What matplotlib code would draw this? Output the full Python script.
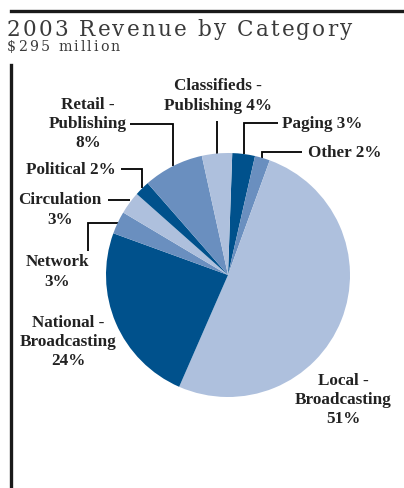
import numpy as np
import matplotlib
matplotlib.use("Agg")
import matplotlib.pyplot as plt
from matplotlib.lines import Line2D

# ---- data -------------------------------------------------------------
categories = ["Paging", "Other", "Local -\nBroadcasting", "National -\nBroadcasting",
              "Network", "Circulation", "Political", "Retail -\nPublishing",
              "Classifieds -\nPublishing"]
shares = [3, 2, 51, 24, 3, 3, 2, 8, 4]
title = "2003 Revenue by Category"
subtitle = "$295 million"

DARK = "#00518C"
MID = "#6A8FBF"
LIGHT = "#AEC0DD"
colors = [DARK, MID, LIGHT, DARK, MID, LIGHT, DARK, MID, LIGHT]

W, H = 404, 489
fig = plt.figure(figsize=(W / 100, H / 100), dpi=100)
ax = fig.add_axes([0, 0, 1, 1])
ax.set_xlim(0, W)
ax.set_ylim(H, 0)
ax.axis("off")

# ---- pie ------------------------------------------------------------
cx, cy, r = 228, 276, 122
pax = fig.add_axes([0, 0, 1, 1])
wedges, _ = pax.pie(shares, colors=colors, startangle=88, counterclock=False,
                    center=(cx, H - cy), radius=r, frame=True,
                    wedgeprops=dict(linewidth=0))
pax.set_xlim(0, W)
pax.set_ylim(0, H)
pax.set_aspect("auto")
pax.axis("off")

def anchor(i):
    w = wedges[i]
    th = np.deg2rad((w.theta1 + w.theta2) / 2)
    return cx + r * np.cos(th), cy - r * np.sin(th)

lab_font = dict(family="Liberation Serif", fontweight="bold", fontsize=12.3,
                color="#222222", linespacing=1.28)
lc = dict(color="black", lw=1.3, solid_capstyle="butt", solid_joinstyle="miter")

def leader(pts):
    xs, ys = zip(*pts)
    ax.add_line(Line2D(xs, ys, **lc))

def block(x, y, txt, ha="center"):
    ax.text(x, y, txt, ha=ha, va="center", multialignment="center", **lab_font)

# Paging
px, py = anchor(0)
leader([(px, py), (px, 124), (278, 124)])
block(282, 124, f"Paging {shares[0]}%", ha="left")
# Other
px, py = anchor(1)
leader([(px, py), (px, 153), (302, 153)])
block(308, 153, f"Other {shares[1]}%", ha="left")
# Local
block(343, 400, f"Local -\nBroadcasting\n{shares[2]}%")
# National
block(68, 342, f"National -\nBroadcasting\n{shares[3]}%")
# Network
px, py = anchor(4)
leader([(px, py), (88, py), (88, 252)])
block(57, 272, f"Network\n{shares[4]}%")
# Circulation
px, py = anchor(5)
leader([(px, py - 3), (108, py - 3)])
block(60, 210, f"Circulation\n{shares[5]}%")
# Political
px, py = anchor(6)
leader([(px, py), (px, 170), (121, 170)])
block(116, 170, f"Political {shares[6]}%", ha="right")
# Retail
px, py = anchor(7)
leader([(px, py), (px, 125), (130, 125)])
block(88, 124, f"Retail -\nPublishing\n{shares[7]}%")
# Classifieds
px, py = anchor(8)
leader([(px, py), (px, 122)])
block(218, 96, f"Classifieds -\nPublishing {shares[8]}%")

# ---- frame rules -------------------------------------------------------
ax.add_line(Line2D([11, W], [12, 12], color="#1a1a1a", lw=2.4))
ax.add_line(Line2D([10.5, 10.5], [66, H], color="#1a1a1a", lw=2.4))

# ---- tracked title text ------------------------------------------------
fig.canvas.draw()
renderer = fig.canvas.get_renderer()

def tracked(text, x0, x1, y, **kw):
    # place characters one by one so the string spans x0..x1
    widths = []
    for ch in text:
        t = ax.text(0, y, ch if ch != " " else "n", **kw)
        bb = t.get_window_extent(renderer)
        widths.append(bb.width if ch != " " else bb.width * 0.5)
        t.remove()
    gap = (x1 - x0 - sum(widths)) / (len(text) - 1)
    x = x0
    for ch, w in zip(text, widths):
        if ch != " ":
            ax.text(x, y, ch, ha="left", va="baseline", **kw)
        x += w + gap

tracked(title, 7, 352, 35.5, family="DejaVu Serif", fontsize=15.5, color="#3a3a3a")
tracked(subtitle, 7, 120, 51, family="DejaVu Serif", fontsize=10.2, color="#3a3a3a")

fig.savefig("out.png", dpi=100)
